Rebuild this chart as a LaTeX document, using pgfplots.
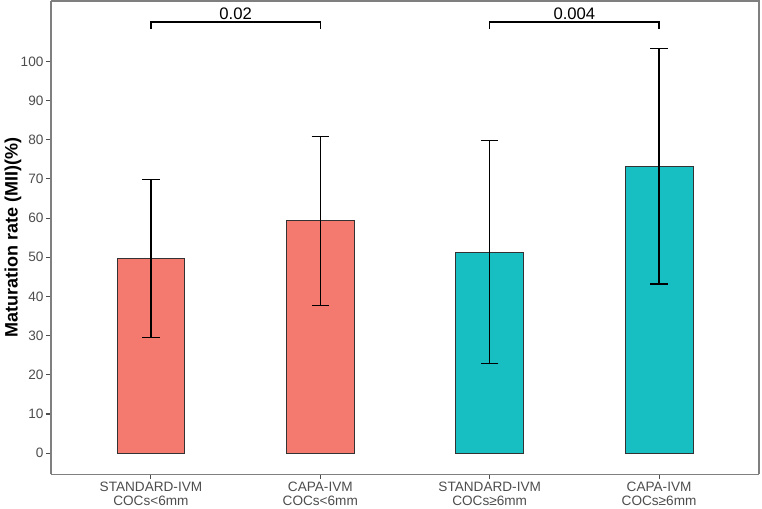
\documentclass[border=0pt]{standalone}
\usepackage{pgfplots}
\pgfplotsset{compat=1.18}
\usepackage{fontspec}
\setmainfont{Liberation Sans}
\definecolor{redc}{HTML}{F47A70}
\definecolor{tealc}{HTML}{17BFC2}
\definecolor{tickgrey}{HTML}{4D4D4D}
\definecolor{framegrey}{HTML}{7F7F7F}
\begin{document}
\begin{tikzpicture}
\begin{axis}[
  name=ax,
  scale only axis,
  width=531pt, height=355pt,
  xmin=0.41, xmax=4.59,
  ymin=-5.4, ymax=115.4,
  xtick={1,2,3,4},
  xticklabels={{STANDARD-IVM\\COCs<6mm},{CAPA-IVM\\COCs<6mm},{STANDARD-IVM\\COCs≥6mm},{CAPA-IVM\\COCs≥6mm}},
  xticklabel style={align=center, font=\fontsize{10.2}{10.5}\selectfont, text=tickgrey, inner sep=2pt},
  ytick={0,10,...,100},
  yticklabel style={font=\fontsize{10.2}{11}\selectfont, text=tickgrey, inner sep=2pt},
  /pgf/number format/assume math mode=true,
  ylabel={\textbf{Maturation rate (MII)(\%)}},
  ylabel style={font=\fontsize{13.5}{14}\selectfont},
  ylabel shift=-6pt,
  tick align=outside,
  tick pos=left,
  major tick length=3.5pt,
  tick style={color=tickgrey, line width=0.8pt},
  axis line style={color=framegrey, line width=0.8pt},
  axis x line*=bottom, axis y line*=left,
  clip=false,
]
\addplot[ybar, bar width=0.4, fill=redc, draw=black!80, line width=0.5pt,
  error bars/.cd, y dir=both, y explicit,
  error bar style={black, line width=1pt},
  error mark options={rotate=90, mark size=6.6pt, line width=1pt}]
  coordinates {(1,49.7) +- (0,20.2) (2,59.3) +- (0,21.55)};
\addplot[ybar, bar width=0.4, fill=tealc, draw=black!80, line width=0.5pt,
  error bars/.cd, y dir=both, y explicit,
  error bar style={black, line width=1pt},
  error mark options={rotate=90, mark size=6.6pt, line width=1pt}]
  coordinates {(3,51.3) +- (0,28.45) (4,73.2) +- (0,30.0)};
\addplot[black, line width=1pt] coordinates {(1,108.3) (1,110) (2,110) (2,108.3)};
\addplot[black, line width=1pt] coordinates {(3,108.3) (3,110) (4,110) (4,108.3)};
\node[above, font=\fontsize{12.5}{13}\selectfont, inner sep=2pt] at (axis cs:1.5,110) {0.02};
\node[above, font=\fontsize{12.5}{13}\selectfont, inner sep=2pt] at (axis cs:3.5,110) {0.004};
\draw[framegrey, line width=0.8pt] (rel axis cs:0,1) -- (rel axis cs:1,1) -- (rel axis cs:1,0);
\end{axis}
\pgfresetboundingbox
\path ([shift={(-38.25pt,-25.5pt)}]ax.south west) rectangle ([shift={(2.25pt,0.75pt)}]ax.north east);
\end{tikzpicture}
\end{document}
